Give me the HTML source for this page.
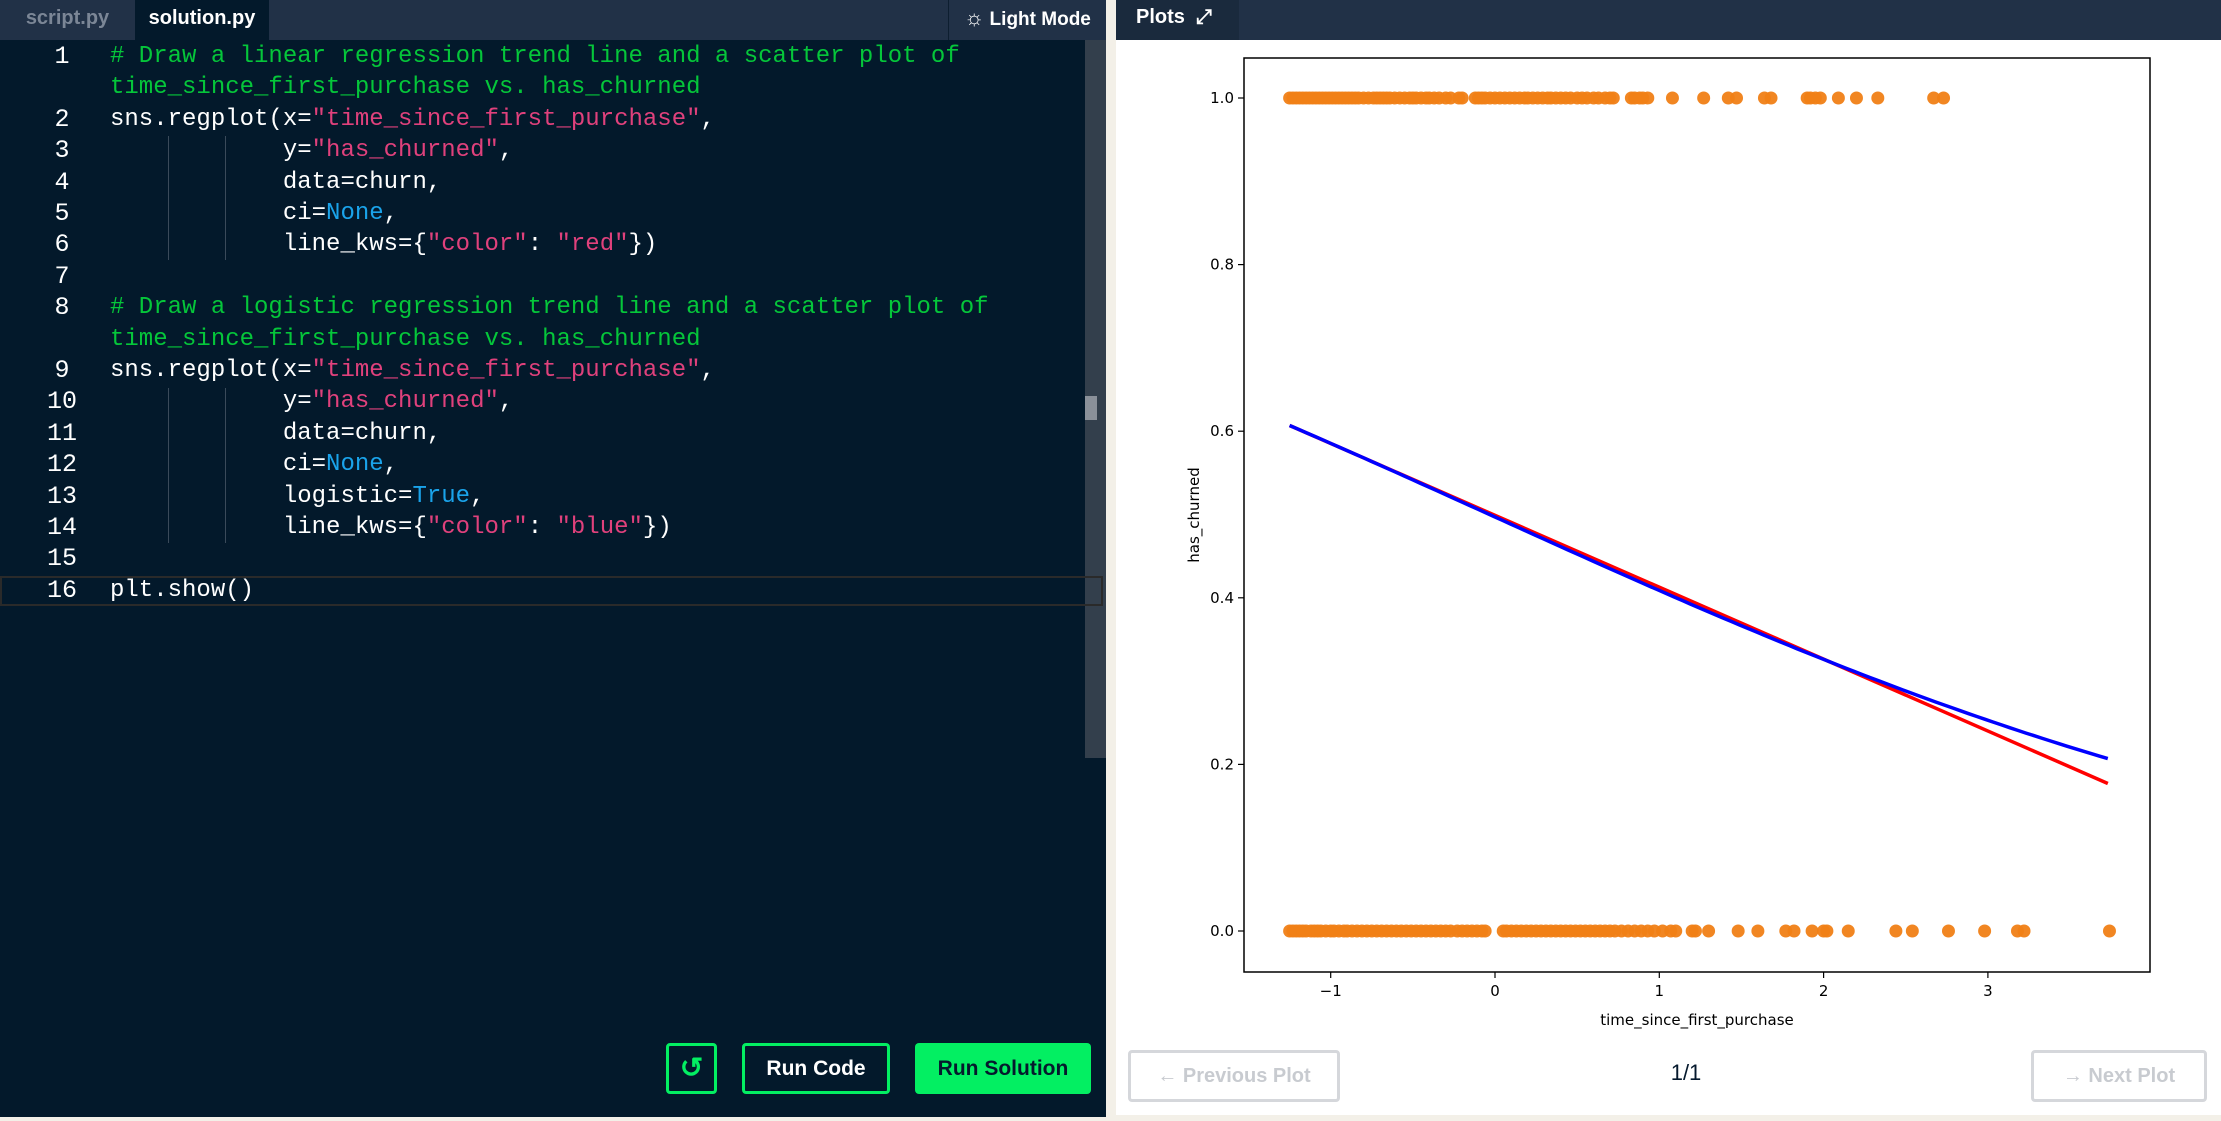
<!DOCTYPE html>
<html><head><meta charset="utf-8">
<style>
*{margin:0;padding:0;box-sizing:border-box}
body{width:2221px;height:1121px;overflow:hidden;background:#f3f0e8;font-family:"Liberation Sans",sans-serif;position:relative}
.abs{position:absolute}
#editor{left:0;top:0;width:1106px;height:1117px;background:#03192b}
#topbar{left:0;top:0;width:1106px;height:40px;background:#213147}
.tab{top:0;height:40px;line-height:36px;font-size:20px;font-weight:bold;text-align:center}
.code{font-family:"Liberation Mono",monospace;font-size:24px;color:#fff;white-space:pre;line-height:31.4px}
.ln{left:32px;width:60px;text-align:center;color:#fff;font-family:"Liberation Mono",monospace;font-size:25px;line-height:31.4px}
.c{color:#05c63a}.s{color:#e0417c}.k{color:#1aa3ea}
.guide{width:1px;background:#3a4a5a}
.btn{border-radius:4px;font-weight:bold;font-size:21px;text-align:center}
</style></head><body>
<div id="editor" class="abs"></div>
<div id="topbar" class="abs"></div>
<div class="abs tab" style="left:0;width:135px;color:#7b8696">script.py</div>
<div class="abs tab" style="left:135px;width:134px;background:#03192b;color:#fff">solution.py</div>
<div class="abs tab" style="left:948px;width:158px;color:#fff;border-left:1px solid #0d1e30;font-size:19px"><span style="font-size:22px">☼</span> Light Mode</div>

<div class="abs" style="left:1085px;top:40px;width:21px;height:718px;background:#333f4c"></div>
<div class="abs" style="left:1085px;top:396px;width:12px;height:24px;background:#8a9099"></div>
<div class="abs" style="left:0;top:576px;width:1103px;height:30px;border:2px solid #2a2a2a"></div>

<div class="abs guide" style="left:168px;top:136px;height:124px"></div>
<div class="abs guide" style="left:225px;top:136px;height:124px"></div>
<div class="abs guide" style="left:168px;top:388px;height:155px"></div>
<div class="abs guide" style="left:225px;top:388px;height:155px"></div>
<div class="abs" style="left:0;top:41px;width:1106px">
<div class="ln abs" style="top:0">1</div><div class="code abs" style="left:110px;top:0"><span class="c"># Draw a linear regression trend line and a scatter plot of</span></div>
<div class="code abs" style="left:110px;top:31.4px"><span class="c">time_since_first_purchase vs. has_churned</span></div>
<div class="ln abs" style="top:62.8px">2</div><div class="code abs" style="left:110px;top:62.8px">sns.regplot(x=<span class="s">"time_since_first_purchase"</span>,</div>
<div class="ln abs" style="top:94.2px">3</div><div class="code abs" style="left:110px;top:94.2px">            y=<span class="s">"has_churned"</span>,</div>
<div class="ln abs" style="top:125.6px">4</div><div class="code abs" style="left:110px;top:125.6px">            data=churn,</div>
<div class="ln abs" style="top:157px">5</div><div class="code abs" style="left:110px;top:157px">            ci=<span class="k">None</span>,</div>
<div class="ln abs" style="top:188.4px">6</div><div class="code abs" style="left:110px;top:188.4px">            line_kws={<span class="s">"color"</span>: <span class="s">"red"</span>})</div>
<div class="ln abs" style="top:219.8px">7</div>
<div class="ln abs" style="top:251.2px">8</div><div class="code abs" style="left:110px;top:251.2px"><span class="c"># Draw a logistic regression trend line and a scatter plot of</span></div>
<div class="code abs" style="left:110px;top:282.6px"><span class="c">time_since_first_purchase vs. has_churned</span></div>
<div class="ln abs" style="top:314px">9</div><div class="code abs" style="left:110px;top:314px">sns.regplot(x=<span class="s">"time_since_first_purchase"</span>,</div>
<div class="ln abs" style="top:345.4px">10</div><div class="code abs" style="left:110px;top:345.4px">            y=<span class="s">"has_churned"</span>,</div>
<div class="ln abs" style="top:376.8px">11</div><div class="code abs" style="left:110px;top:376.8px">            data=churn,</div>
<div class="ln abs" style="top:408.2px">12</div><div class="code abs" style="left:110px;top:408.2px">            ci=<span class="k">None</span>,</div>
<div class="ln abs" style="top:439.6px">13</div><div class="code abs" style="left:110px;top:439.6px">            logistic=<span class="k">True</span>,</div>
<div class="ln abs" style="top:471px">14</div><div class="code abs" style="left:110px;top:471px">            line_kws={<span class="s">"color"</span>: <span class="s">"blue"</span>})</div>
<div class="ln abs" style="top:502.4px">15</div>
<div class="ln abs" style="top:533.8px">16</div><div class="code abs" style="left:110px;top:533.8px">plt.show()</div>
</div>

<div class="abs btn" style="left:666px;top:1043px;width:51px;height:51px;border:3px solid #03ef62;color:#03ef62;line-height:44px;font-size:28px">↺</div>
<div class="abs btn" style="left:742px;top:1043px;width:148px;height:51px;border:3px solid #03ef62;color:#fff;line-height:45px">Run Code</div>
<div class="abs btn" style="left:915px;top:1043px;width:176px;height:51px;background:#03ef62;color:#05192d;line-height:51px">Run Solution</div>

<div class="abs" style="left:1116px;top:0;width:1105px;height:1115px;background:#fff"></div>
<div class="abs" style="left:1116px;top:0;width:1105px;height:40px;background:#213147"></div>
<div class="abs" style="left:1116px;top:0;width:123px;height:40px;background:#1a2a3d;color:#fff;font-weight:bold;font-size:20px;line-height:34px;padding-left:20px">Plots &nbsp;⤢</div>

<svg class="abs" style="left:0;top:0" width="2221" height="1121" id="chart"></svg>

<div class="abs btn" style="left:1128px;top:1050px;width:212px;height:52px;border:3px solid #d5d7db;color:#c8cbd0;line-height:46px;font-size:20px">← Previous Plot</div>
<div class="abs" style="left:1656px;top:1060px;width:60px;text-align:center;font-size:22px;color:#05192d">1/1</div>
<div class="abs btn" style="left:2031px;top:1050px;width:176px;height:52px;border:3px solid #d5d7db;color:#c8cbd0;line-height:46px;font-size:20px">→ Next Plot</div>

<script>
const churned1X=[-1.25,-1.23,-1.21,-1.19,-1.17,-1.15,-1.13,-1.11,-1.09,-1.07,-1.05,-1.03,-1.01,-0.99,-0.97,-0.95,-0.93,-0.91,-0.89,-0.87,-0.85,-0.83,-0.8,-0.77,-0.74,-0.72,-0.7,-0.68,-0.66,-0.64,-0.61,-0.58,-0.55,-0.52,-0.5,-0.48,-0.45,-0.42,-0.4,-0.37,-0.34,-0.3,-0.27,-0.22,-0.2,-0.12,-0.1,-0.08,-0.06,-0.03,0.0,0.03,0.06,0.09,0.12,0.15,0.18,0.2,0.23,0.26,0.29,0.32,0.34,0.37,0.4,0.43,0.46,0.5,0.53,0.56,0.6,0.63,0.67,0.7,0.72,0.83,0.85,0.88,0.9,0.93,1.08,1.27,1.42,1.47,1.64,1.68,1.9,1.92,1.95,1.98,2.09,2.2,2.33,2.67,2.73];
const churned0X=[-1.25,-1.23,-1.21,-1.19,-1.17,-1.15,-1.12,-1.1,-1.08,-1.06,-1.03,-1.0,-0.98,-0.95,-0.92,-0.9,-0.87,-0.84,-0.81,-0.78,-0.75,-0.72,-0.69,-0.66,-0.63,-0.6,-0.57,-0.54,-0.51,-0.48,-0.45,-0.42,-0.39,-0.36,-0.33,-0.3,-0.27,-0.23,-0.2,-0.17,-0.14,-0.11,-0.08,-0.06,0.05,0.07,0.1,0.13,0.16,0.19,0.22,0.25,0.28,0.31,0.34,0.37,0.4,0.43,0.46,0.49,0.52,0.55,0.58,0.61,0.64,0.67,0.7,0.73,0.77,0.81,0.85,0.89,0.93,0.97,1.02,1.07,1.1,1.2,1.22,1.3,1.48,1.6,1.77,1.82,1.93,2.0,2.02,2.15,2.44,2.54,2.76,2.98,3.18,3.22,3.74];
const linIntercept=0.499, linSlope=-0.0863;
const logIntercept=-0.012, logSlope=-0.357;
const xRange=[-1.25,3.73];
const xTicks=[-1,0,1,2,3];
const yTicks=[0.0,0.2,0.4,0.6,0.8,1.0];
const yTickLabels=["0.0","0.2","0.4","0.6","0.8","1.0"];

const L=1244,R=2150,T=58,B=972;
const X=v=>1495+v*164.3;
const Y=v=>931-v*833;
const svg=document.getElementById('chart');
const NS='http://www.w3.org/2000/svg';
function mk(tag,attrs){const e=document.createElementNS(NS,tag);for(const k in attrs)e.setAttribute(k,attrs[k]);svg.appendChild(e);return e;}

const frame=mk('rect',{x:L,y:T,width:R-L,height:B-T,fill:'#fff',stroke:'#000','stroke-width':1.5});



churned1X.forEach(v=>{const c=mk('circle',{cx:X(v),cy:Y(1),r:6.5,fill:'#f07f16','fill-opacity':0.95});

});
churned0X.forEach(v=>{const c=mk('circle',{cx:X(v),cy:Y(0),r:6.5,fill:'#f07f16','fill-opacity':0.95});

});

const red=mk('line',{x1:X(xRange[0]),y1:Y(linIntercept+linSlope*xRange[0]),x2:X(xRange[1]),y2:Y(linIntercept+linSlope*xRange[1]),stroke:'red','stroke-width':3.5});


let d='';for(let i=0;i<=100;i++){const x=xRange[0]+(xRange[1]-xRange[0])*i/100;const p=1/(1+Math.exp(-(logIntercept+logSlope*x)));d+=(i?'L':'M')+X(x).toFixed(1)+','+Y(p).toFixed(1);}
const blue=mk('path',{d:d,stroke:'blue','stroke-width':3.5,fill:'none'});



xTicks.forEach(v=>{mk('line',{x1:X(v),x2:X(v),y1:B,y2:B+6,stroke:'#000','stroke-width':1.2});
const t=mk('text',{x:X(v),y:B+24,'font-size':15,'text-anchor':'middle','font-family':'DejaVu Sans, sans-serif'});t.textContent=v<0?'\u2212'+(-v):String(v);

});
yTicks.forEach((v,i)=>{mk('line',{x1:L-6,x2:L,y1:Y(v),y2:Y(v),stroke:'#000','stroke-width':1.2});
const t=mk('text',{x:L-10,y:Y(v)+5,'font-size':15,'text-anchor':'end','font-family':'DejaVu Sans, sans-serif'});t.textContent=yTickLabels[i];

});
const xt=mk('text',{x:(L+R)/2,y:B+53,'font-size':15,'text-anchor':'middle','font-family':'DejaVu Sans, sans-serif'});xt.textContent='time_since_first_purchase';


const yt=mk('text',{x:1199,y:(T+B)/2,'font-size':15,'text-anchor':'middle','font-family':'DejaVu Sans, sans-serif',transform:'rotate(-90 1199 '+((T+B)/2)+')'});yt.textContent='has_churned';


</script>
</body></html>
